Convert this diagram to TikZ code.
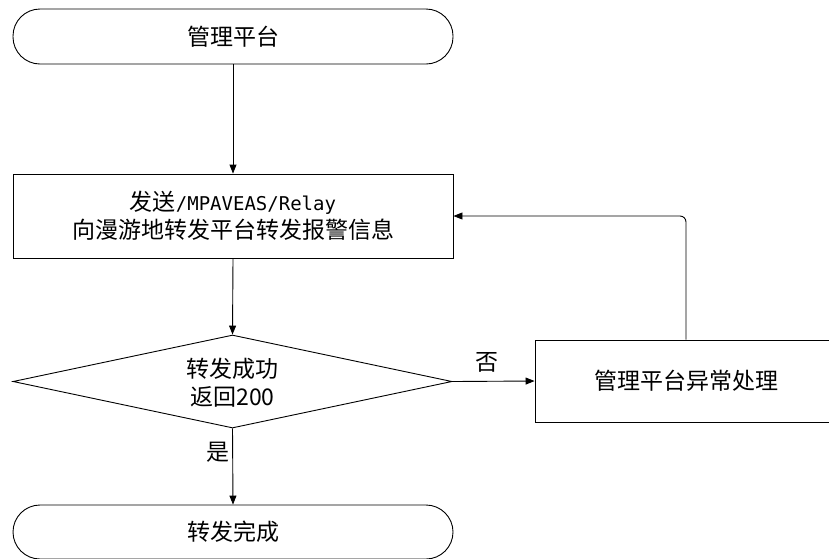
\documentclass[tikz,border=0pt]{standalone}
\usepackage{fontspec}
\newfontfamily\cjk{Noto Sans CJK SC}
\newfontfamily\monofont{DejaVu Sans Mono}
\usetikzlibrary{shapes.geometric,arrows.meta}
\begin{document}
\begin{tikzpicture}[x=1pt,y=-1pt,
  every node/.style={font=\cjk\fontsize{23}{28}\selectfont, inner sep=0pt},
  term/.style={draw, line width=0.9pt, rounded corners=27pt, minimum width=440pt, align=center},
  procbox/.style={draw, line width=0.9pt, align=center},
  decision/.style={draw, line width=0.9pt, diamond, minimum width=439pt, minimum height=93pt, align=center},
  conn/.style={draw, line width=0.9pt, -{Triangle[length=9pt,width=7pt]}},
  lbl/.style={font=\cjk\fontsize{23}{28}\selectfont}
]
\useasboundingbox (0,0) rectangle (829,558);
\clip (0,0) rectangle (829,558);
\fill[white] (0,0) rectangle (829,558);

\node[term, minimum height=55pt] (start) at (233,36.5) {管理平台};
\node[procbox, minimum width=440pt, minimum height=84pt] (send) at (233,216)
  {发送{\monofont\fontsize{19}{28}\selectfont /MPAVEAS/Relay}\\向漫游地转发平台转发报警信息};
\node[decision] (dec) at (232.5,381.5) {};
\node[lbl, align=center] (dectext) at (232.5,383) {\fontsize{23}{31}\selectfont 转发成功\\返回200};
\node[term, minimum height=54pt] (finish) at (233,532) {转发完成};
\node[procbox, minimum width=302pt, minimum height=82pt] (err) at (686,381) {管理平台异常处理};

\node[lbl] (yes) at (218,452) {是};
\node[lbl] (no) at (487,362) {否};

\draw[conn] (start.south) -- (send.north);
\draw[conn] (send.south) -- (dec.north);
\draw[conn] (dec.south) -- (finish.north);
\draw[conn] (dec.east) -- (err.west);
\draw[conn, rounded corners=6pt] (err.north) |- (send.east);
\end{tikzpicture}
\end{document}
